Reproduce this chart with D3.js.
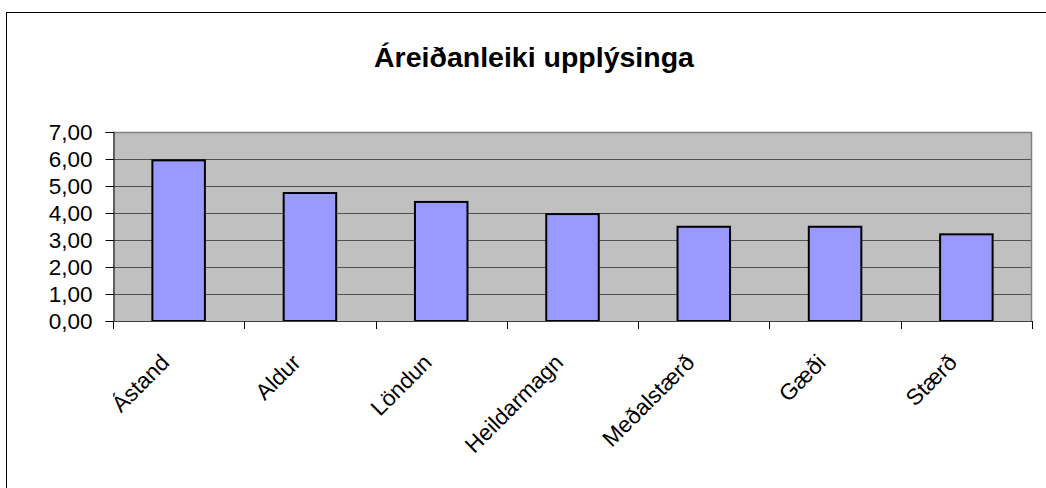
<!DOCTYPE html>
<html><head><meta charset="utf-8">
<script src="https://cdn.jsdelivr.net/npm/d3@7"></script>
<style>html,body{margin:0;padding:0;background:#fff;}svg{display:block;font-family:"Liberation Sans",Arial,sans-serif;}</style>
</head><body>
<svg id="c" width="1046" height="488"></svg>
<script>
const title = "Áreiðanleiki upplýsinga";
const categories = ["Ástand","Aldur","Löndun","Heildarmagn","Meðalstærð","Gæði","Stærð"];
const values = [5.95, 4.74, 4.41, 3.96, 3.49, 3.49, 3.21];
const yTicks = [0,1,2,3,4,5,6,7];

const svg = d3.select("#c");
const L = 113, R = 1032, T = 132, B = 321;

svg.append("rect").attr("x",6.5).attr("y",12.5).attr("width",1200).attr("height",700)
  .attr("fill","#fff").attr("stroke","#000").attr("stroke-width",1);

svg.append("text").attr("x",534).attr("y",67).attr("text-anchor","middle")
  .attr("font-size",28.5).attr("font-weight","bold").attr("fill","#000").text(title);

const x = d3.scaleBand().domain(categories).range([L,R]).paddingInner(0.6).paddingOuter(0.3);
const xb = d3.scaleBand().domain(categories).range([L,R]).padding(0);
const y = d3.scaleLinear().domain([0,7]).range([B,T]);

svg.append("rect").attr("x",L).attr("y",T).attr("width",R-L).attr("height",B-T).attr("fill","#c0c0c0");

svg.append("g").selectAll("line").data(yTicks.filter(d=>d>0 && d<7)).join("line")
  .attr("x1",L).attr("x2",R).attr("y1",d=>Math.round(y(d))+0.5).attr("y2",d=>Math.round(y(d))+0.5)
  .attr("stroke","#505050").attr("stroke-width",1);

svg.append("path").attr("d",`M${L},${T+0.5}H${R-0.5}V${B}`).attr("fill","none").attr("stroke","#808080").attr("stroke-width",1.5);

svg.append("g").selectAll("rect").data(values).join("rect")
  .attr("x",(d,i)=>x(categories[i])).attr("width",x.bandwidth())
  .attr("y",d=>y(d)).attr("height",d=>B-y(d))
  .attr("fill","#9999ff").attr("stroke","#000").attr("stroke-width",2);

const yAxis = d3.axisLeft(y).tickValues(yTicks).tickSize(8).tickPadding(13)
  .tickFormat(d=>d3.format(".2f")(d).replace(".",","));
const ga = svg.append("g").attr("transform",`translate(${L+0.5},0)`).call(yAxis);
ga.select(".domain").attr("stroke","#000");
ga.selectAll(".tick line").attr("stroke","#000");
ga.selectAll("text").attr("font-size",22.5).attr("fill","#000").attr("font-family","Liberation Sans, Arial, sans-serif");

const bounds = categories.map(c=>xb(c)).concat([R]);
svg.append("line").attr("x1",L).attr("x2",R).attr("y1",B+0.5).attr("y2",B+0.5).attr("stroke","#404040").attr("stroke-width",1.2);
svg.append("g").selectAll("line").data(bounds).join("line")
  .attr("x1",d=>Math.round(d)+0.5).attr("x2",d=>Math.round(d)+0.5).attr("y1",B).attr("y2",B+8)
  .attr("stroke","#000");

svg.append("g").selectAll("text").data(categories).join("text")
  .attr("transform",d=>`translate(${xb(d)+xb.bandwidth()/2-8},${B+43}) rotate(-45)`)
  .attr("text-anchor","end").attr("font-size",22.5).attr("fill","#000").text(d=>d);
</script>
</body></html>
